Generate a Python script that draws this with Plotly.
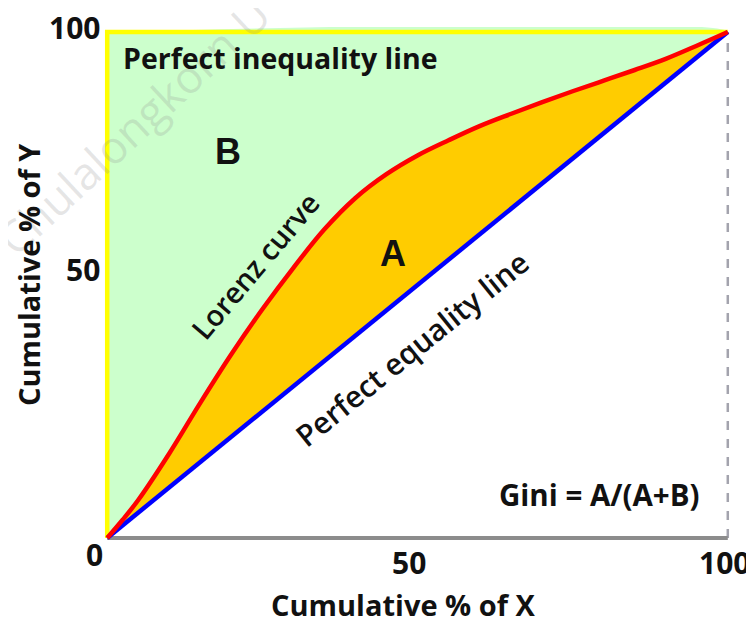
import plotly.graph_objects as go

# values (percent)
lorenz_x = [0, 2.5, 5, 10, 15, 20, 25, 30, 35, 40, 45, 50, 55, 60, 65, 70, 75, 80, 85, 90, 95, 100]
lorenz_y = [0, 3.6, 7.5, 16.7, 26.7, 36.3, 45.2, 53.4, 61.0, 67.2, 71.9, 75.6, 78.6, 81.4,
            83.8, 86.1, 88.3, 90.4, 92.5, 94.7, 97.3, 100]
equality_x = [0, 100]
equality_y = [0, 100]
tick_text = ["0", "50", "100"]

FONT = "Open Sans, Liberation Sans, Arial, sans-serif"
ARIAL = "Liberation Sans, Arial, sans-serif"

# the page body has an 8px margin, so the figure is made smaller by that much
OFF = 8
W, H = 754, 622

# pixel frame of the plot area (page coordinates)
x0px, x100px, y100px, y0px = 107, 728, 32, 538
sx = (x100px - x0px) / 100
sy = (y0px - y100px) / 100
pad = 1.0

fig = go.Figure()

# green area above the Lorenz curve (B)
fig.add_trace(go.Scatter(x=lorenz_x + [0], y=lorenz_y + [100], fill="toself",
                         fillcolor="#ccffcc", line=dict(width=0), mode="lines",
                         line_shape="spline", hoverinfo="skip"))
# orange area between equality line and Lorenz curve (A)
fig.add_trace(go.Scatter(x=equality_x, y=equality_y, mode="lines",
                         line=dict(width=0), hoverinfo="skip"))
fig.add_trace(go.Scatter(x=lorenz_x, y=lorenz_y, mode="lines", fill="tonexty",
                         fillcolor="#ffcc00", line=dict(width=0), line_shape="spline",
                         hoverinfo="skip"))

# frame lines
fig.add_trace(go.Scatter(x=[100, 100], y=[0, 100], mode="lines",
                         line=dict(color="#a3a3ad", width=2.5, dash="dash")))
fig.add_trace(go.Scatter(x=[0, 100], y=[0, 0], mode="lines",
                         line=dict(color="#8c8c8c", width=4)))
fig.add_trace(go.Scatter(x=[0, 0, 100], y=[0, 100, 100], mode="lines",
                         line=dict(color="#ffff00", width=4.5)))

# equality and Lorenz lines
fig.add_trace(go.Scatter(x=equality_x, y=equality_y, mode="lines",
                         line=dict(color="#0000ff", width=4.5)))
fig.add_trace(go.Scatter(x=lorenz_x, y=lorenz_y, mode="lines", line_shape="spline",
                         line=dict(color="#ff0000", width=4.5)))

txt = dict(family=FONT, size=29, color="#111111", weight="bold")
mid = dict(family=FONT, size=30, color="#111111", weight=600)
big = dict(family=ARIAL, size=36, color="#111111", weight="bold")

# faint watermark
fig.add_annotation(x=4.2, y=81.6, text="Chulalongkorn U", showarrow=False, textangle=-43,
                   font=dict(family=FONT, size=45, color="rgba(140,140,140,0.22)"))

fig.add_annotation(x=28.0, y=94.9, text="Perfect inequality line", showarrow=False,
                   font=dict(txt, size=28.5))
fig.add_annotation(x=19.5, y=76.3, text="B", showarrow=False, font=big)
fig.add_annotation(x=46.1, y=56.3, text="A", showarrow=False, font=big)
fig.add_annotation(x=23.8, y=53.8, text="Lorenz curve", showarrow=False,
                   textangle=-50, font=dict(mid, size=29))
fig.add_annotation(x=49.1, y=37.5, text="Perfect equality line", showarrow=False,
                   textangle=-39, font=mid)
fig.add_annotation(x=79.4, y=8.5, text="Gini = A/(A+B)", showarrow=False, font=dict(txt, size=29.5))

# tick labels
tick = dict(txt, size=30)
fig.add_annotation(x=0, y=0, text=tick_text[0], showarrow=False, xanchor="right",
                   xshift=-2, yshift=-17, font=tick)
fig.add_annotation(x=50, y=0, text=tick_text[1], showarrow=False, xshift=-9, yshift=-25, font=tick)
fig.add_annotation(x=100, y=0, text=tick_text[2], showarrow=False, xanchor="right",
                   xshift=24, yshift=-25, font=tick)
fig.add_annotation(x=0, y=50, text=tick_text[1], showarrow=False, xanchor="right",
                   xshift=-5, yshift=16, font=tick)
fig.add_annotation(x=0, y=100, text=tick_text[2], showarrow=False, xanchor="right",
                   xshift=-5, yshift=5, font=tick)

# axis titles
fig.add_annotation(x=47.7, y=0, text="Cumulative % of X", showarrow=False, yshift=-67, font=txt)
fig.add_annotation(x=0, y=52, text="Cumulative % of Y", showarrow=False, xshift=-78,
                   textangle=-90, font=txt)

fig.update_xaxes(range=[-pad, 100 + pad], showgrid=False, zeroline=False,
                 showticklabels=False, showline=False)
fig.update_yaxes(range=[-pad, 100 + pad], showgrid=False, zeroline=False,
                 showticklabels=False, showline=False)
fig.update_layout(width=W - OFF, height=H - OFF, showlegend=False,
                  plot_bgcolor="white", paper_bgcolor="white",
                  margin=dict(l=x0px - OFF - pad * sx, r=W - (x100px + pad * sx),
                              t=y100px - OFF - pad * sy, b=H - (y0px + pad * sy),
                              autoexpand=False))

fig.write_html("out.html")
